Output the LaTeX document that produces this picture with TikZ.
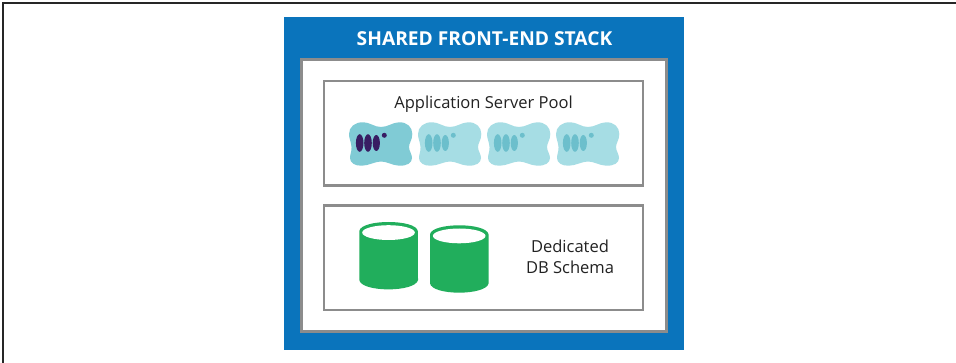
\documentclass[tikz,border=0pt]{standalone}
\usepackage{fontspec}
\setmainfont{Open Sans}
\definecolor{stackblue}{HTML}{0A74BC}
\definecolor{boxgray}{HTML}{8C8C8C}
\definecolor{dbgreen}{HTML}{21AE5C}
\definecolor{srvon}{HTML}{80CBD5}
\definecolor{srvoff}{HTML}{A6DDE4}
\definecolor{coreon}{HTML}{381D63}
\definecolor{coreoff}{HTML}{6CBFCC}
\definecolor{inktext}{HTML}{222222}
\tikzset{
  x=0.75pt,y=-0.75pt,
  label/.style={text=inktext,font=\fontsize{12.4}{16}\selectfont,align=center,
    preaction={}},
}
\newcommand{\srv}[4]{%
  \begin{scope}[shift={(#1,#2)}]
    \fill[#3] (2.5,25) .. controls (2,19) and (0,17) .. (0,12)
      .. controls (0,5) and (6,0) .. (14,0.3)
      .. controls (22,0.6) and (25,5) .. (32,5)
      .. controls (39,5) and (43,0.6) .. (50,0.3)
      .. controls (58,0) and (63.3,5) .. (63.3,12)
      .. controls (63.3,18) and (60,21) .. (60,25)
      .. controls (60,29) and (63,32) .. (63,36)
      .. controls (63,41) and (58,44) .. (50,43.7)
      .. controls (43,43.3) and (38,39.5) .. (32,39.5)
      .. controls (26,39.5) and (20,43.5) .. (13,43.7)
      .. controls (6,44) and (1,41) .. (1,36)
      .. controls (1,32) and (3,29) .. (2.5,25) -- cycle;
    \fill[#4] (10.7,21) ellipse [x radius=3.8,y radius=8.8];
    \fill[#4] (19,21) ellipse [x radius=3.8,y radius=8.8];
    \fill[#4] (27.3,21) ellipse [x radius=3.6,y radius=8];
    \fill[#4] (35.3,13.3) circle [radius=2.5];
  \end{scope}}
\newcommand{\dbcyl}[2]{%
  \begin{scope}[shift={(#1,#2)}]
    \fill[dbgreen] (0,9) .. controls (2,-3) and (56.5,-3) .. (58.5,9)
      -- (58.7,58) .. controls (56,70.5) and (2,70.5) .. (0,58) -- cycle;
    \fill[white] (29.2,10.6) ellipse [x radius=26.3,y radius=7.4];
  \end{scope}}
\begin{document}
\begin{tikzpicture}
  \useasboundingbox (0,0) rectangle (956,363);
  \fill[white] (0,0) rectangle (956,363);
  \coordinate (tl) at (3,3);
  \coordinate (tr) at (956,3);
  \coordinate (bl) at (3,363);
  \draw[line width=0.9pt,draw=black!85] (tr) -- (tl) -- (bl);
  \fill[stackblue] (284,17) rectangle (684,350);
  \node[text=white,font=\bfseries\fontsize{14.4}{16}\selectfont,anchor=center] (title) at (484.5,39) {SHARED FRONT-END STACK};
  \draw[boxgray,line width=2.2pt,fill=white] (301.5,59.5) rectangle (666.5,331.5);
  \draw[boxgray,line width=1.6pt,fill=white] (324,81) rectangle (643,185.5);
  \draw[boxgray,line width=1.6pt,fill=white] (324,205.5) rectangle (643,310);
  \node[label] (pool) at (483.5,104) {Application Server Pool};
  \srv{349}{122}{srvon}{coreon}
  \srv{418}{122}{srvoff}{coreoff}
  \srv{487}{122}{srvoff}{coreoff}
  \srv{556}{122}{srvoff}{coreoff}
  \dbcyl{359.3}{222}
  \dbcyl{430}{225.3}
  \node[label] (schema) at (570,257) {Dedicated\\DB Schema};
\end{tikzpicture}
\end{document}
